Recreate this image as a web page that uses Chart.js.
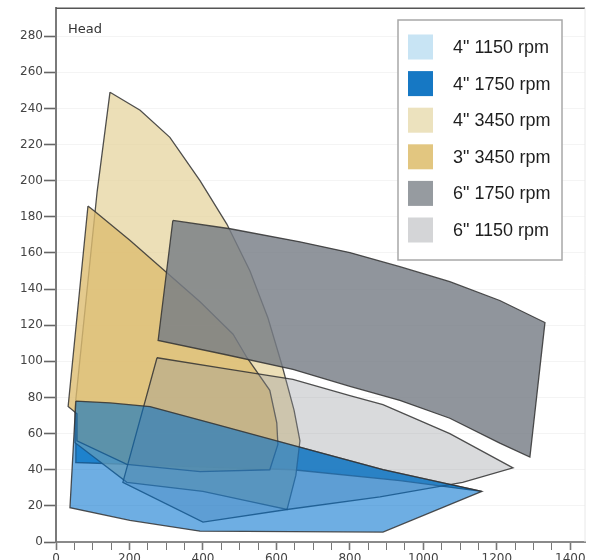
<!DOCTYPE html>
<html>
<head>
<meta charset="utf-8">
<script src="https://cdn.jsdelivr.net/npm/chart.js@4.4.1/dist/chart.umd.min.js"></script>
<style>
  body { margin: 0; background: #fff; }
  #wrap { width: 597px; height: 560px; }
</style>
</head>
<body>
<div id="wrap"><canvas id="myChart" width="597" height="560"></canvas></div>
<script>
// pump operating ranges: flow along x, head along y
// every range is one closed outline
const labels = ['4" 1150 rpm', '4" 1750 rpm', '4" 3450 rpm', '3" 3450 rpm', '6" 1750 rpm', '6" 1150 rpm'];

const flow4in1150 = [54, 147, 256, 438, 691, 890, 1159, 890, 392, 201, 38];
const head4in1150 = [78, 77, 75, 65, 51, 40, 28, 5.5, 6, 12, 19];

const flow4in1750 = [54, 147, 256, 438, 691, 890, 1159, 936, 645, 337, 52];
const head4in1750 = [78, 77, 75, 65, 51, 40, 28, 34, 40, 42, 44];

const flow4in3450 = [147, 229, 310, 392, 465, 528, 577, 615, 648, 664, 653, 629, 514, 400, 193, 52, 52, 112];
const head4in3450 = [249, 239, 224, 200, 176, 150, 124, 98, 73, 56, 37, 18, 23, 28, 33, 55, 75, 194];

const flow3in3450 = [87, 106, 201, 291, 392, 482, 520, 582, 601, 604, 582, 392, 193, 57, 57, 33];
const head3in3450 = [186, 183, 167, 151, 133, 115, 102, 84, 66, 54, 40, 39, 43, 56, 71, 75];

const flow6in1750 = [318, 474, 664, 800, 936, 1072, 1208, 1331, 1290, 1208, 1072, 936, 800, 645, 460, 278];
const head6in1750 = [178, 173.4, 166.2, 160.2, 152.4, 144.1, 133.7, 121.5, 47, 54.7, 68.5, 78.4, 86.2, 95.5, 103.8, 111.6];

const flow6in1150 = [275, 460, 645, 800, 890, 1072, 1244, 1107, 882, 629, 400, 182];
const head6in1150 = [102, 96, 90, 81, 76, 60, 41, 33, 25, 18, 11, 33];

const flows = [flow4in1150, flow4in1750, flow4in3450, flow3in3450, flow6in1750, flow6in1150];
const heads = [head4in1150, head4in1750, head4in3450, head3in3450, head6in1750, head6in1150];

// fills are see-through so the overlaps mix like in the print
const fillColors = [
  'rgba(0,112,205,0.57)',
  'rgba(60,148,200,0.95)',
  'rgba(229,212,159,0.75)',
  'rgba(221,189,112,0.8)',
  'rgba(120,126,134,0.82)',
  'rgba(146,149,155,0.35)'
];
const legendColors = ['#c8e4f4', '#1678c4', '#ece2be', '#e2c680', '#969ba0', '#d4d5d7'];
// lower order is painted on top; 4" 1750 sits under the tan ranges
const layer = [1, 6, 5, 4, 2, 3];

function outline(xs, ys) {
  const pts = xs.map((x, i) => ({x: x, y: ys[i]}));
  pts.push(pts[0]);
  return pts;
}

const overlay = {
  id: 'overlay',
  afterDraw(chart) {
    const ctx = chart.ctx, a = chart.chartArea;
    ctx.save();
    ctx.strokeStyle = '#555';
    ctx.lineWidth = 1.5;
    ctx.beginPath(); ctx.moveTo(a.left, a.top); ctx.lineTo(a.right, a.top); ctx.stroke();
    ctx.strokeStyle = '#e8e8e8';
    ctx.lineWidth = 1;
    ctx.beginPath(); ctx.moveTo(a.right, a.top); ctx.lineTo(a.right, a.bottom); ctx.stroke();

    ctx.fillStyle = '#333';
    ctx.font = '13px "DejaVu Sans"';
    ctx.textBaseline = 'top';
    ctx.fillText('Head', a.left + 12, a.top + 15);

    // legend box
    const bx = 398, by = 20, bw = 164, bh = 240;
    ctx.fillStyle = '#fff';
    ctx.fillRect(bx, by, bw, bh);
    ctx.strokeStyle = '#a8a8a8';
    ctx.lineWidth = 1.5;
    ctx.strokeRect(bx, by, bw, bh);
    ctx.font = '18px "Liberation Sans"';
    ctx.textBaseline = 'middle';
    labels.forEach((lab, i) => {
      const cy = 47 + i * 36.6;
      ctx.fillStyle = legendColors[i];
      ctx.fillRect(408, cy - 12.5, 25, 25);
      ctx.fillStyle = '#1e1e1e';
      ctx.fillText(lab, 453, cy + 1);
    });
    ctx.restore();
  }
};

var ctx = document.getElementById('myChart').getContext('2d');
var myChart = new Chart(ctx, {
  type: 'scatter',
  data: {
    datasets: labels.map((lab, i) => ({
      label: lab,
      data: outline(flows[i], heads[i]),
      showLine: true,
      fill: 'shape',
      backgroundColor: fillColors[i],
      borderColor: 'rgba(50,50,50,0.85)',
      borderWidth: 1.3,
      pointRadius: 0,
      tension: 0,
      order: layer[i]
    }))
  },
  options: {
    responsive: false,
    animation: false,
    devicePixelRatio: 1,
    layout: { padding: { top: 7, right: 12, left: 0, bottom: 0 } },
    plugins: {
      legend: { display: false },
      tooltip: { enabled: false }
    },
    scales: {
      x: {
        type: 'linear',
        min: 0,
        max: 1440,
        afterFit: s => { s.height = 18; },
        border: { color: '#8a8a8a', width: 2 },
        grid: {
          drawOnChartArea: false,
          tickLength: 8,
          tickColor: '#777',
          tickWidth: c => (c.tick && c.tick.value % 200 === 0 ? 1.6 : 1)
        },
        ticks: {
          stepSize: 50,
          includeBounds: false,
          autoSkip: false,
          maxRotation: 0,
          padding: 2,
          color: '#444',
          font: { family: 'DejaVu Sans', size: 12 },
          callback: v => (v % 200 === 0 ? v : '')
        }
      },
      y: {
        type: 'linear',
        min: 0,
        max: 295.5,
        afterFit: s => { s.width = 56; },
        border: { color: '#7a7a7a', width: 2 },
        grid: {
          color: '#f4f4f4',
          tickColor: '#666',
          tickWidth: 1.6,
          tickLength: 12
        },
        ticks: {
          stepSize: 20,
          includeBounds: false,
          padding: 1,
          color: '#444',
          font: { family: 'DejaVu Sans', size: 12 }
        }
      }
    }
  },
  plugins: [overlay]
});
</script>
</body>
</html>
